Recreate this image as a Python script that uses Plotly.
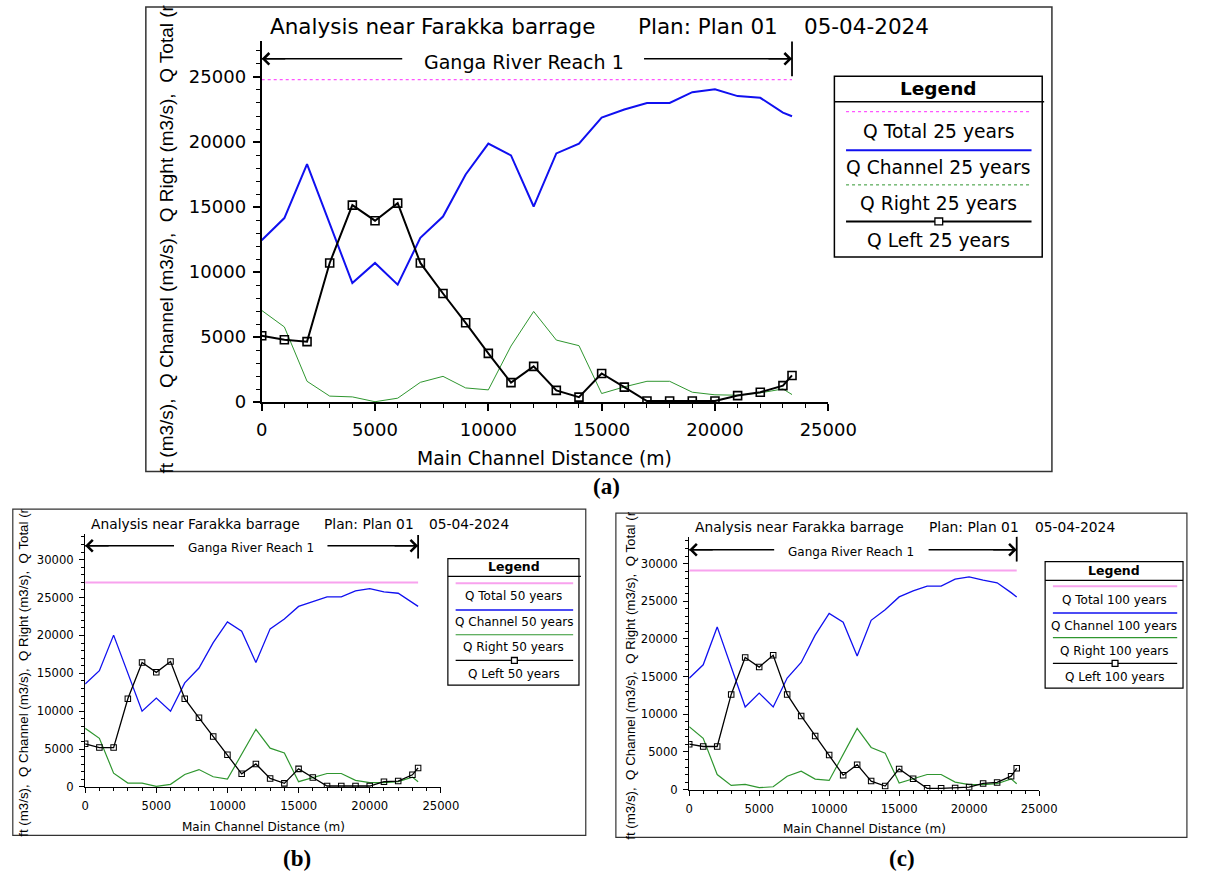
import plotly.graph_objects as go

W, H = 1213, 884


def px(x):
    return x / W


def py(y):
    return 1 - y / H


# ---------------- data ----------------
distance_m = [0, 1000, 2000, 3000, 4000, 5000, 6000, 7000, 8000, 9000, 10000,
              11000, 12000, 13000, 14000, 15000, 16000, 17000, 18000, 19000,
              20000, 21000, 22000, 23000, 23400]

# 25 years
q_total_25 = [24800, 24800, 24800, 24800, 24800, 24800, 24800, 24800, 24800, 24800,
              24800, 24800, 24800, 24800, 24800, 24800, 24800, 24800, 24800, 24800,
              24800, 24800, 24800, 24800, 24800]
q_channel_25 = [12450, 14150, 18300, 13700, 9150, 10700, 9030, 12630, 14270, 17500,
                19880, 18970, 15040, 19120, 19880, 21880, 22500, 23000, 23000, 23830,
                24060, 23530, 23400, 22260, 21980]
q_right_25 = [7050, 5780, 1600, 460, 400, 30, 300, 1520, 1980, 1090,
              940, 4310, 6970, 4770, 4340, 660, 1170, 1600, 1600, 760,
              560, 530, 710, 1010, 580]
q_left_25 = [5100, 4800, 4650, 10700, 15150, 13950, 15300, 10700, 8350, 6100,
             3750, 1500, 2750, 900, 380, 2200, 1150, 80, 80, 80,
             80, 500, 760, 1270, 2050]

# 50 years
q_total_50 = [27000, 27000, 27000, 27000, 27000, 27000, 27000, 27000, 27000, 27000,
              27000, 27000, 27000, 27000, 27000, 27000, 27000, 27000, 27000, 27000,
              27000, 27000, 27000, 27000, 27000]
q_channel_50 = [13600, 15350, 20040, 15100, 10000, 11740, 10000, 13740, 15700, 19040,
                21780, 20570, 16430, 20870, 22170, 23830, 24430, 25090, 25090, 25870,
                26170, 25740, 25570, 24260, 23830]
q_right_50 = [7740, 6430, 1830, 520, 520, 90, 350, 1650, 2300, 1350,
              1040, 4260, 7610, 5130, 4480, 700, 1220, 1780, 1780, 870,
              570, 570, 700, 1300, 700]
q_left_50 = [5700, 5200, 5200, 11650, 16430, 15130, 16570, 11650, 9130, 6650,
             4260, 1740, 3040, 1130, 480, 2390, 1260, 130, 130, 130,
             130, 700, 780, 1610, 2520]

# 100 years
q_total_100 = [29100, 29100, 29100, 29100, 29100, 29100, 29100, 29100, 29100, 29100,
               29100, 29100, 29100, 29100, 29100, 29100, 29100, 29100, 29100, 29100,
               29100, 29100, 29100, 29100, 29100]
q_channel_100 = [14780, 16570, 21600, 16300, 10970, 12810, 10970, 14820, 16880, 20500,
                 23390, 22210, 17750, 22470, 23870, 25580, 26370, 27020, 27020, 27940,
                 28250, 27810, 27460, 26150, 25580]
q_right_100 = [8350, 6820, 2010, 570, 700, 260, 390, 1790, 2450, 1400,
               1220, 4630, 8130, 5600, 4850, 870, 1490, 2010, 2010, 1000,
               660, 660, 790, 1440, 790]
q_left_100 = [6030, 5730, 5730, 12640, 17530, 16270, 17840, 12640, 9790, 7130,
              4590, 1920, 3320, 1140, 480, 2750, 1440, 175, 175, 220,
              350, 830, 960, 1790, 2840]

return_periods = ["25", "50", "100"]
panel_tags = ["(a)", "(b)", "(c)"]
title_left = "Analysis near Farakka barrage"
title_plan = "Plan: Plan 01"
title_date = "05-04-2024"
reach_name = "Ganga River Reach 1"
x_title = "Main Channel Distance (m)"
y_title_visible = "ft (m3/s),  Q Channel (m3/s),  Q Right (m3/s),  Q Total (r"
x_tick_step = 5000
x_max = 25000
reach_end = 23400

series = [
    (q_total_25, q_channel_25, q_right_25, q_left_25),
    (q_total_50, q_channel_50, q_right_50, q_left_50),
    (q_total_100, q_channel_100, q_right_100, q_left_100),
]

SANS = "DejaVu Sans"
ARIAL = "Liberation Sans"
SERIF = "Liberation Serif"
BLUE = "#1010f0"
GREEN = "#2f962f"
PINK_A = "#ff55ff"
PINK_BC = "#f8a2ee"

# ---------------- layout geometry (pixels) ----------------
panels = [
    dict(
        frame=(144, 7, 1077, 477), frame_w=1.5,
        plot=(263.3, 41.7, 846.7, 406.7), ymax=27750,
        title_y=27, title_xs=(270, 649, 820), title_size=21.5,
        reach_y=59.5, reach_text=(533, 62.5), reach_size=19,
        reach_tails=(408, 657), reach_vert=(42, 77),
        tick_size=18, ticklen=7, minorlen=4, axis_w=2,
        xt=(554.5, 464), lab_size=18.8, yt=(165, 242), yt_size=19,
        tag=(618, 492), tag_size=23,
        leg_box=(853, 77, 1067, 260), leg_div=(103, 1069), leg_head=(960, 90),
        leg_line_x=(865, 1056), leg_lines=(113, 152, 187, 224),
        leg_texts=(133, 169, 206, 243), leg_cx=960, leg_size=18.7,
        leg_head_size=18.5, marker_size=8, line_w=2, right_w=1,
        total_dash="dot", total_w=1.2, total_color=PINK_A, right_dash_leg="dot",
        box_w=1.5, mk_half=(4, 3.5),
    ),
    dict(
        frame=(7, 515, 597, 845), frame_w=1.2,
        plot=(81.5, 540, 447.8, 796), ymax=33400,
        title_y=530, title_xs=(85, 325, 434), title_size=13.8,
        reach_y=552, reach_text=(252.5, 554), reach_size=12,
        reach_tails=(173, 331), reach_vert=(541, 565),
        tick_size=11.6, ticklen=5, minorlen=3, axis_w=1.3,
        xt=(265, 836), lab_size=12, yt=(18, 680), yt_size=13.3,
        tag=(300, 868), tag_size=23,
        leg_box=(455, 565, 590, 693), leg_div=(583, 592), leg_head=(523, 573),
        leg_line_x=(463, 584), leg_lines=(590, 617, 642, 668),
        leg_texts=(603, 629, 654, 682), leg_cx=523, leg_size=12,
        leg_head_size=12.5, marker_size=5.5, line_w=1.3, right_w=1.2,
        total_dash="solid", total_w=2, total_color=PINK_BC, right_dash_leg="solid",
        box_w=1.2, mk_half=(3, 3),
    ),
    dict(
        frame=(628, 519, 1216, 847), frame_w=1.2,
        plot=(703.5, 543, 1063.8, 798.7), ymax=33550,
        title_y=533, title_xs=(707, 948, 1057), title_size=13.8,
        reach_y=556, reach_text=(870, 558), reach_size=12,
        reach_tails=(791, 950), reach_vert=(543, 568),
        tick_size=11.6, ticklen=5, minorlen=3, axis_w=1.3,
        xt=(884, 838), lab_size=12, yt=(643, 683), yt_size=13.3,
        tag=(923, 868), tag_size=23,
        leg_box=(1070, 568, 1212, 696), leg_div=(587, 1212), leg_head=(1141, 577),
        leg_line_x=(1078, 1206), leg_lines=(593, 620, 645, 671),
        leg_texts=(607, 633, 658, 685), leg_cx=1141, leg_size=12,
        leg_head_size=12.5, marker_size=5.5, line_w=1.3, right_w=1.2,
        total_dash="solid", total_w=2, total_color=PINK_BC, right_dash_leg="solid",
        box_w=1.2, mk_half=(3, 3),
    ),
]

fig = go.Figure()
shapes = []
annotations = []


def text(x, y, s, size, xanchor="center", family=SANS, weight="normal", angle=0):
    annotations.append(dict(
        x=px(x), y=py(y), xref="paper", yref="paper", text=s, showarrow=False,
        xanchor=xanchor, yanchor="middle", textangle=angle,
        font=dict(family=family, size=size, color="black", weight=weight),
    ))


def hline(x0, x1, y, color="black", width=1, dash="solid"):
    shapes.append(dict(type="line", xref="paper", yref="paper",
                       x0=px(x0), x1=px(x1), y0=py(y), y1=py(y),
                       line=dict(color=color, width=width, dash=dash)))


for i, (p, (qt, qc, qr, ql), rp, tag) in enumerate(zip(panels, series, return_periods, panel_tags)):
    n = "" if i == 0 else str(i + 1)
    xa, ya = "x" + n, "y" + n
    x0, y0, x1, y1 = p["plot"]

    # traces
    fig.add_trace(go.Scatter(x=distance_m, y=qt, mode="lines", xaxis=xa, yaxis=ya,
                             line=dict(color=p["total_color"], width=p["total_w"], dash=p["total_dash"]),
                             showlegend=False, name="Q Total " + rp + " years"))
    fig.add_trace(go.Scatter(x=distance_m, y=qr, mode="lines", xaxis=xa, yaxis=ya,
                             line=dict(color=GREEN, width=p["right_w"]),
                             showlegend=False, name="Q Right " + rp + " years"))
    fig.add_trace(go.Scatter(x=distance_m, y=qc, mode="lines", xaxis=xa, yaxis=ya,
                             line=dict(color=BLUE, width=p["line_w"]),
                             showlegend=False, name="Q Channel " + rp + " years"))
    fig.add_trace(go.Scatter(x=distance_m, y=ql, mode="lines+markers", xaxis=xa, yaxis=ya,
                             line=dict(color="black", width=p["line_w"]),
                             marker=dict(symbol="square-open", size=p["marker_size"],
                                         color="black", line=dict(width=p["line_w"] * 0.8)),
                             showlegend=False, name="Q Left " + rp + " years"))

    common = dict(showgrid=False, zeroline=False, showline=True, linecolor="black",
                  linewidth=p["axis_w"], ticks="outside", ticklen=p["ticklen"],
                  tickwidth=p["axis_w"] * 0.8, tickcolor="black", dtick=x_tick_step, tick0=0,
                  tickformat="d", ticklabelstandoff=3,
                  tickfont=dict(family=SANS, size=p["tick_size"], color="black"),
                  minor=dict(dtick=1000, ticks="outside", ticklen=p["minorlen"],
                             tickcolor="black", tickwidth=1, showgrid=False),
                  fixedrange=True)
    fig.update_layout(**{
        "xaxis" + n: dict(domain=[px(x0), px(x1)], range=[0, x_max], anchor=ya, **common),
        "yaxis" + n: dict(domain=[py(y1), py(y0)], range=[0, p["ymax"]], anchor=xa, **common),
    })

    # frame
    fx0, fy0, fx1, fy1 = p["frame"]
    shapes.append(dict(type="rect", xref="paper", yref="paper", x0=px(fx0), x1=px(fx1),
                       y0=py(fy1), y1=py(fy0), line=dict(color="#333333", width=p["frame_w"])))

    # header texts
    for tx, s in zip(p["title_xs"], (title_left, title_plan, title_date)):
        text(tx, p["title_y"], s, p["title_size"], xanchor="left")

    # reach annotation
    ry = p["reach_y"]
    lt, rt = p["reach_tails"]
    hline(x0, lt, ry, width=1.5)
    hline(rt, x0 + (x1 - x0) * reach_end / x_max, ry, width=1.5)
    for head, off in ((0, 25), (reach_end, -25)):
        annotations.append(dict(x=head, y=py(ry), xref=xa, yref="paper", text="",
                                showarrow=True, ax=off, ay=0, axref="pixel", ayref="pixel",
                                arrowhead=4, arrowsize=1.5, arrowwidth=1.5, arrowcolor="black",
                                standoff=0))
    rv0, rv1 = p["reach_vert"]
    shapes.append(dict(type="line", xref=xa, yref="paper", x0=reach_end, x1=reach_end,
                       y0=py(rv1), y1=py(rv0), line=dict(color="black", width=1.8)))
    text(p["reach_text"][0], p["reach_text"][1], reach_name, p["reach_size"])

    # axis titles
    text(p["xt"][0], p["xt"][1], x_title, p["lab_size"])
    text(p["yt"][0], p["yt"][1], y_title_visible, p["yt_size"], family=ARIAL, angle=-90)

    # panel tag
    text(p["tag"][0], p["tag"][1], "(" + "<b>" + tag[1] + "</b>" + ")", p["tag_size"],
         family=SERIF, weight="bold")

    # legend
    bx0, by0, bx1, by1 = p["leg_box"]
    shapes.append(dict(type="rect", xref="paper", yref="paper", x0=px(bx0), x1=px(bx1),
                       y0=py(by1), y1=py(by0), line=dict(color="black", width=p["box_w"])))
    hline(bx0, p["leg_div"][1], p["leg_div"][0], width=p["box_w"])
    text(p["leg_head"][0], p["leg_head"][1], "Legend", p["leg_head_size"], weight="bold")
    lx0, lx1 = p["leg_line_x"]
    ly = p["leg_lines"]
    hline(lx0, lx1, ly[0], color=p["total_color"], width=p["total_w"], dash=p["total_dash"])
    hline(lx0, lx1, ly[1], color=BLUE, width=p["line_w"])
    hline(lx0, lx1, ly[2], color=GREEN, width=p["right_w"], dash=p["right_dash_leg"])
    hline(lx0, lx1, ly[3], color="black", width=p["line_w"])
    mw, mh = p["mk_half"]
    cx = (lx0 + lx1) / 2
    shapes.append(dict(type="rect", xref="paper", yref="paper", x0=px(cx - mw), x1=px(cx + mw),
                       y0=py(ly[3] + mh), y1=py(ly[3] - mh),
                       line=dict(color="black", width=1.3), fillcolor="white"))
    names = ["Q Total", "Q Channel", "Q Right", "Q Left"]
    for nm, tyy in zip(names, p["leg_texts"]):
        text(p["leg_cx"], tyy, nm + " " + rp + " years", p["leg_size"])

fig.update_layout(
    width=W, height=H, margin=dict(l=0, r=0, t=0, b=0),
    paper_bgcolor="white", plot_bgcolor="white",
    showlegend=False, shapes=shapes, annotations=annotations,
)

fig.write_html("out.html")
